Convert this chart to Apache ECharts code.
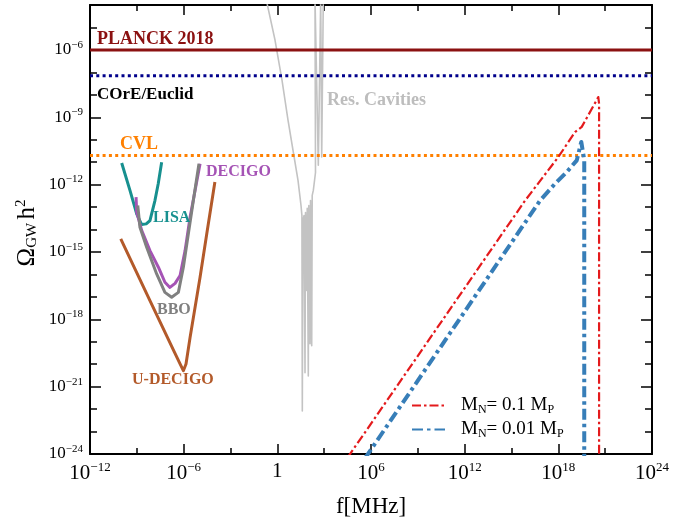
<!DOCTYPE html>
<html>
<head>
<meta charset="utf-8">
<script src="https://cdn.jsdelivr.net/npm/echarts@6/dist/echarts.min.js"></script>
<style>html,body{margin:0;padding:0;background:#fff;overflow:hidden;}#c{width:690px;height:523px;}</style>
</head>
<body>
<div id="c"></div>
<script>
// All values are log10 exponents: x = log10(f / MHz), y = log10(Omega_GW h^2)
const xTickExps = [-12, -6, 0, 6, 12, 18, 24];
const yTickExps = [-24, -21, -18, -15, -12, -9, -6];

const planckLevel = -6.0;
const coreLevel = -7.15;
const cvlLevel = -10.7;

const lisaCurve = [[-9.97,-11.04],[-9.44,-12.26],[-9.01,-13.30],[-8.69,-13.78],[-8.59,-13.82],[-8.40,-13.75],[-8.16,-13.60],[-7.84,-12.71],[-7.63,-11.96],[-7.41,-11.0]];
const decigoCurve = [[-9.05,-12.56],[-9.01,-13.23],[-8.69,-14.04],[-8.16,-14.94],[-7.62,-15.68],[-7.20,-16.35],[-6.88,-16.58],[-6.55,-16.40],[-6.23,-16.05],[-5.91,-14.94],[-5.59,-13.45],[-5.27,-12.26],[-4.95,-11.07]];
const bboCurve = [[-8.94,-12.93],[-8.80,-13.90],[-8.37,-14.79],[-7.73,-15.98],[-7.20,-16.80],[-6.77,-17.02],[-6.34,-16.80],[-6.02,-15.68],[-5.70,-14.19],[-5.38,-12.71],[-5.02,-11.07]];
const udecigoCurve = [[-10.03,-14.42],[-8.16,-17.17],[-6.60,-19.45],[-6.23,-19.99],[-6.02,-20.29],[-5.85,-19.99],[-5.59,-18.81],[-4.95,-16.13],[-4.52,-14.19],[-4.0,-11.88]];
const cavitiesCurve = [[-0.73,-3.7],[-0.149,-5.56],[0.299,-7.35],[0.684,-9.13],[1.004,-10.47],[1.325,-11.81],[1.517,-12.93],[1.575,-13.38],[1.600,-22.08],[1.640,-13.60],[1.709,-13.38],[1.773,-20.38],[1.805,-13.24],[1.882,-16.72],[1.914,-13.06],[1.984,-20.52],[2.016,-12.93],[2.093,-19.09],[2.125,-12.71],[2.202,-19.18],[2.234,-12.48],[2.305,-12.26],[2.445,-11.46],[2.413,-3.7],[2.522,-3.7],[2.625,-11.14],[2.778,-3.7],[2.842,-10.77],[2.945,-3.7]];
const mn01Curve = [[4.5,-24.16],[15.87,-12.71],[18.0,-10.77],[19.07,-9.66],[19.50,-9.43],[20.56,-8.10],[20.61,-8.4],[20.61,-25]];
const mn001Curve = [[5.6,-24.21],[16.83,-12.71],[17.79,-11.96],[18.54,-11.44],[19.18,-10.92],[19.47,-10.10],[19.66,-10.9],[19.66,-25]];

const seriesNames = ['MN01', 'MN001'];
const legendLabels = {MN01: 'M{s|N}= 0.1 M{s|P}', MN001: 'M{s|N}= 0.01 M{s|P}'};

const SERIF = "'Liberation Serif','Times New Roman',serif";
function supText(v){ return v < 0 ? '\u2212' + (-v) : String(v); }

const chart = echarts.init(document.getElementById('c'), null, {renderer: 'canvas', width: 690, height: 523});

function hLine(level){ return [[-12, level],[24, level]]; }
function xAxisCfg(pos, showLabel){
  return {
    type: 'value', min: -12, max: 24, interval: 6, position: pos,
    axisLine: {show: true, onZero: false, lineStyle: {color: '#000', width: 2}},
    axisTick: {show: true, inside: true, length: 10, lineStyle: {color: '#000', width: 1.5}},
    minorTick: {show: true, splitNumber: 2, length: 6, lineStyle: {color: '#000', width: 1.5}},
    splitLine: {show: false}, minorSplitLine: {show: false},
    axisLabel: {
      show: showLabel, margin: 7,
      formatter: v => xTickExps.indexOf(v) < 0 ? '' : (v === 0 ? '{b|1}' : '{b|10}{s|' + supText(v) + '}'),
      rich: {
        b: {fontFamily: SERIF, fontSize: 21, color: '#000'},
        s: {fontFamily: SERIF, fontSize: 13, color: '#000', padding: [0,0,12,0]}
      }
    },
    name: showLabel ? 'f[MHz]' : '', nameLocation: 'middle', nameGap: 41,
    nameTextStyle: {fontFamily: SERIF, fontSize: 23, color: '#000'}
  };
}
function yAxisCfg(pos, major, showLabel){
  return {
    type: 'value', min: -24, max: -4, interval: major ? 3 : 1, position: pos,
    axisLine: {show: major, onZero: false, lineStyle: {color: '#000', width: 2}},
    axisTick: {show: true, inside: true, length: major ? 11 : 7, lineStyle: {color: '#000', width: 1.5}},
    splitLine: {show: false},
    axisLabel: {
      show: showLabel, margin: 7,
      formatter: v => yTickExps.indexOf(v) < 0 ? '' : '{b|10}{s|' + supText(v) + '}',
      rich: {
        b: {fontFamily: SERIF, fontSize: 17, color: '#000'},
        s: {fontFamily: SERIF, fontSize: 11, color: '#000', padding: [0,0,10,0]}
      }
    }
  };
}
function curve(data, color, width, type, name, z){
  return {
    type: 'line', name: name, data: data, symbol: 'none', smooth: false, animation: false,
    xAxisIndex: 0, yAxisIndex: 0, z: z || 2, clip: true,
    lineStyle: {color: color, width: width, type: type || 'solid', cap: 'butt', join: 'round'},
    itemStyle: {color: color}
  };
}

function annot(text, x, y, color, size){
  return {type: 'text', x: x, y: y, z: 50, style: {text: text, fill: color, font: 'bold ' + size + 'px ' + SERIF, textAlign: 'left', textVerticalAlign: 'middle'}};
}

const option = {
  backgroundColor: '#fff',
  animation: false,
  grid: {left: 90, right: 38, top: 5, bottom: 62, containLabel: false},
  xAxis: [xAxisCfg('bottom', true), xAxisCfg('top', false)],
  yAxis: [yAxisCfg('left', true, true), yAxisCfg('left', false, false), yAxisCfg('right', true, false), yAxisCfg('right', false, false)],
  legend: {
    data: seriesNames, orient: 'vertical', left: 406, top: 391, itemWidth: 33, itemHeight: 14, itemGap: 4,
    formatter: n => legendLabels[n],
    itemStyle: {color: 'rgba(0,0,0,0)', borderWidth: 0, opacity: 0},
    textStyle: {
      fontFamily: SERIF, fontSize: 19, color: '#000', padding: [0,0,0,11],
      rich: {s: {fontFamily: SERIF, fontSize: 12, color: '#000', padding: [9,0,0,0]}}
    }
  },
  series: [
    curve(cavitiesCurve, '#c3c3c3', 1.6, 'solid', 'cav', 1),
    curve(hLine(planckLevel), '#8b1111', 3, 'solid', 'planck', 3),
    curve(hLine(coreLevel), '#00008b', 3, [3, 3.3], 'core', 3),
    curve(hLine(cvlLevel), '#ff8000', 3, [3, 3.3], 'cvl', 3),
    curve(lisaCurve, '#17908f', 3, 'solid', 'lisa', 4),
    curve(udecigoCurve, '#b35a2a', 3, 'solid', 'udecigo', 4),
    curve(decigoCurve, '#a553b5', 3, 'solid', 'decigo', 4),
    curve(bboCurve, '#808080', 3, 'solid', 'bbo', 5),
    curve(mn01Curve, '#e41a1c', 2.2, [9, 3, 2.5, 3], 'MN01', 6),
    curve(mn001Curve, '#377eb8', 4, [11, 4, 3.5, 4], 'MN001', 6)
  ],
  graphic: [
    annot('PLANCK 2018', 97, 39, '#8b1111', 18),
    annot('COrE/Euclid', 97, 95, '#000', 17),
    annot('CVL', 120, 144, '#ff8000', 18),
    annot('Res. Cavities', 327, 100, '#bdbdbd', 18),
    annot('LISA', 153, 218, '#17908f', 16),
    annot('DECIGO', 206, 172, '#a553b5', 16),
    annot('BBO', 157, 310, '#808080', 16),
    annot('U-DECIGO', 132, 380, '#b35a2a', 16),
    {type: 'text', x: 27, y: 233, rotation: Math.PI / 2, z: 50,
     style: {text: '{o|\u03A9}{s|GW} {o|h}{p|2}', textAlign: 'center', textVerticalAlign: 'middle',
       rich: {
         o: {fontFamily: SERIF, fontSize: 25, fill: '#000', color: '#000'},
         s: {fontFamily: SERIF, fontSize: 15, fill: '#000', color: '#000', padding: [10,0,0,0]},
         p: {fontFamily: SERIF, fontSize: 15, fill: '#000', color: '#000', padding: [0,0,12,0]}
       }}}
  ]
};
chart.setOption(option);
</script>
</body>
</html>
